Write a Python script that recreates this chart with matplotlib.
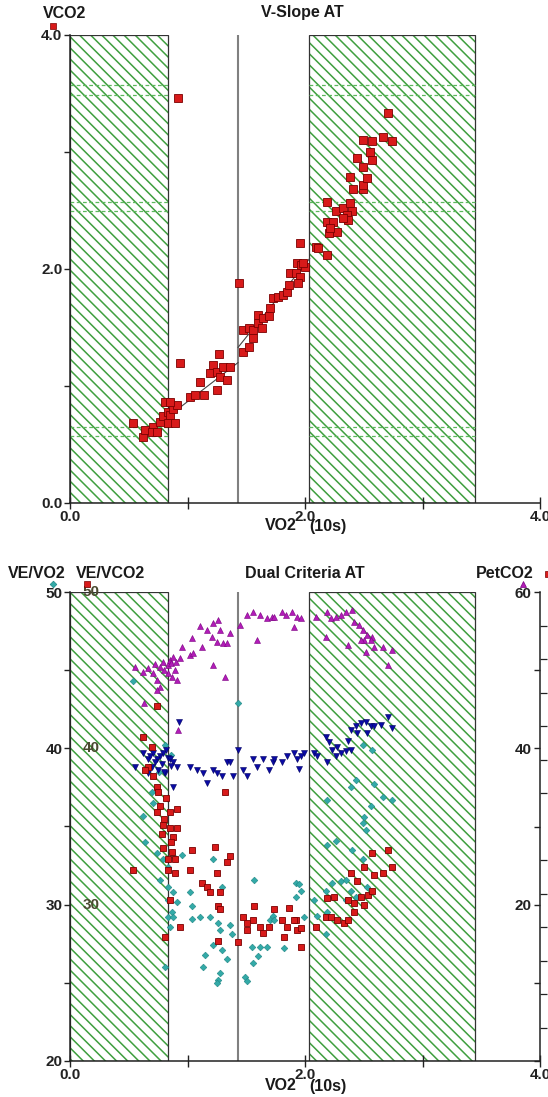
import matplotlib
matplotlib.use("Agg")
import matplotlib.pyplot as plt
from matplotlib.ticker import FixedLocator, FormatStrFormatter

# Размер картинки в пикселях
W = 548
H = 1097
DPI = 100

plt.rcParams['font.family'] = ['Liberation Sans', 'DejaVu Sans']
plt.rcParams['hatch.linewidth'] = 1.1

# ---- V-Slope: VO2 / VCO2 ----
vo2 = [0.54, 0.62, 0.64, 0.71, 0.70, 0.74, 0.77, 0.79, 0.83, 0.85, 0.88, 0.91,
       0.81, 0.85, 0.83, 0.89, 0.94, 1.02, 1.06, 1.11, 1.14, 1.19, 1.22, 1.25,
       1.28, 1.30, 1.34, 1.25, 1.36, 1.27, 1.44, 1.47, 1.52, 1.56, 1.47, 1.52,
       1.56, 1.60, 1.63, 1.60, 1.64, 1.69, 1.70, 1.73, 1.77, 1.81, 1.85, 1.86,
       1.87, 1.92, 1.93, 1.97, 2.00, 1.96, 1.94, 1.96, 2.09, 2.11, 2.19, 2.19,
       2.24, 2.20, 2.27, 2.21, 2.19, 2.26, 2.32, 2.38, 2.40, 2.36, 2.37, 2.32,
       2.41, 2.49, 2.49, 2.38, 2.53, 2.49, 2.44, 2.57, 2.55, 2.49, 2.57, 2.66,
       2.74, 2.71, 0.92, 1.98]
vco2 = [0.68, 0.56, 0.62, 0.65, 0.61, 0.61, 0.69, 0.74, 0.78, 0.75, 0.80, 0.84,
        0.86, 0.86, 0.68, 0.68, 1.20, 0.91, 0.92, 1.03, 0.92, 1.11, 1.18, 1.12,
        1.08, 1.16, 1.05, 0.97, 1.16, 1.27, 1.88, 1.29, 1.33, 1.41, 1.48, 1.50,
        1.48, 1.54, 1.50, 1.61, 1.58, 1.60, 1.67, 1.75, 1.76, 1.78, 1.80, 1.86,
        1.97, 1.97, 2.05, 2.03, 2.02, 1.93, 1.88, 2.22, 2.19, 2.18, 2.12, 2.40,
        2.40, 2.31, 2.32, 2.35, 2.57, 2.50, 2.52, 2.56, 2.50, 2.46, 2.42, 2.44,
        2.68, 2.68, 2.72, 2.79, 2.78, 2.87, 2.95, 2.93, 3.00, 3.10, 3.09, 3.13,
        3.09, 3.33, 3.46, 2.05]

# линии регрессии ниже и выше AT
fit1_x = [0.85, 1.43]
fit1_y = [0.75, 1.20]
fit2_x = [1.43, 2.04]
fit2_y = [1.33, 2.09]

AT = 1.43
zone_left = (0.0, 0.83)
zone_right = (2.03, 3.45)
dash_levels = [0.57, 0.65, 2.50, 2.57, 3.49, 3.57]

# ---- Dual Criteria ----
# VE/VCO2 (красные квадраты)
vco2_x = [0.74, 0.62, 0.70, 0.66, 0.64, 0.71, 0.74, 0.75, 1.32, 0.77, 0.85, 0.91,
          0.74, 0.79, 0.85, 0.91, 0.78, 0.88, 0.79, 0.87, 0.83, 0.89, 0.83, 0.89,
          0.54, 1.04, 1.02, 1.23, 1.36, 1.34, 1.25, 1.12, 1.17, 1.19, 1.28, 1.26,
          1.28, 0.94, 0.81, 0.85, 1.26, 1.43, 1.47, 1.51, 1.57, 1.56, 1.62, 1.64,
          1.69, 1.51, 1.74, 1.80, 1.86, 1.85, 1.92, 1.93, 1.97, 1.97, 2.09, 2.18,
          2.22, 2.27, 2.33, 2.37, 2.42, 2.37, 2.42, 2.19, 2.25, 2.39, 2.44, 2.48,
          2.50, 2.54, 2.57, 2.50, 2.59, 2.66, 2.57, 2.71, 2.74, 1.91, 1.82, 0.80,
          0.86, 0.82]
vco2_y = [42.7, 40.7, 40.1, 38.8, 38.6, 38.2, 37.5, 37.2, 37.2, 36.3, 35.9, 36.1,
          35.9, 35.1, 34.9, 34.9, 34.5, 34.3, 33.6, 33.4, 32.9, 32.9, 32.2, 32.0,
          32.2, 33.5, 32.2, 33.7, 33.1, 32.7, 32.0, 31.4, 31.1, 30.8, 30.8, 29.9,
          29.7, 28.6, 27.9, 30.3, 27.7, 27.6, 29.2, 28.8, 29.9, 29.0, 28.6, 28.2,
          28.6, 28.4, 29.7, 29.0, 29.8, 28.6, 29.0, 28.4, 27.3, 28.5, 28.6, 29.2,
          29.2, 29.0, 28.8, 29.0, 29.5, 30.3, 30.1, 30.4, 30.5, 32.0, 31.5, 30.5,
          30.0, 30.6, 30.9, 32.4, 31.9, 32.0, 33.3, 33.5, 32.4, 29.0, 27.9, 35.5,
          34.0, 36.8]

# VE/VO2 (бирюзовые ромбы)
vo2r_x = [0.54, 1.43, 0.81, 0.70, 0.71, 0.62, 0.64, 0.74, 0.79, 0.83, 0.88, 0.95,
          0.77, 0.83, 0.88, 0.83, 0.91, 0.87, 0.83, 0.88, 0.85, 1.02, 1.04, 1.04,
          1.11, 1.19, 1.26, 1.28, 1.22, 1.29, 1.36, 1.38, 1.22, 1.29, 1.34, 1.15,
          1.13, 1.28, 1.26, 1.25, 0.81, 1.57, 1.49, 1.51, 1.55, 1.62, 1.56, 1.60,
          1.68, 1.70, 1.73, 1.74, 1.82, 1.92, 1.95, 1.97, 1.92, 1.99, 2.08, 2.10,
          2.18, 2.19, 2.18, 2.23, 2.31, 2.35, 2.35, 2.40, 2.43, 2.49, 2.52, 2.49,
          2.19, 2.26, 2.53, 2.39, 2.49, 2.57, 2.43, 2.39, 2.59, 2.66, 2.74, 2.19,
          2.56, 2.50, 0.76, 0.86]
vo2r_y = [44.3, 42.9, 40.2, 37.2, 36.5, 35.7, 34.0, 33.3, 32.9, 32.4, 33.1, 33.2,
          31.6, 31.1, 30.8, 30.3, 30.2, 29.5, 29.2, 29.2, 28.6, 30.8, 29.9, 29.1,
          29.2, 29.2, 28.8, 28.4, 32.9, 31.1, 28.7, 28.1, 27.4, 27.1, 26.5, 26.8,
          26.0, 25.6, 25.2, 25.0, 26.0, 31.6, 25.4, 25.1, 27.3, 27.3, 26.3, 26.7,
          27.3, 29.0, 29.3, 29.0, 27.2, 31.4, 31.3, 30.9, 30.5, 29.2, 30.3, 29.3,
          28.1, 29.5, 30.9, 31.4, 31.5, 31.6, 30.3, 33.5, 30.5, 32.9, 34.8, 35.2,
          33.8, 34.1, 31.1, 30.9, 40.2, 39.9, 38.0, 37.5, 37.7, 36.9, 36.7, 36.7,
          36.3, 35.6, 38.5, 39.6]

# синие треугольники (левая шкала)
blue_x = [0.55, 0.62, 0.66, 0.68, 0.71, 0.74, 0.77, 0.79, 0.83, 0.85, 0.88, 0.91,
          0.70, 0.75, 0.81, 0.88, 0.66, 0.93, 1.02, 1.08, 1.13, 1.17, 1.22, 1.25,
          1.29, 1.34, 1.36, 1.39, 1.43, 1.47, 1.51, 1.56, 1.59, 1.64, 1.69, 1.73,
          1.74, 1.80, 1.85, 1.91, 1.93, 1.97, 1.99, 1.95, 2.08, 2.10, 2.18, 2.20,
          2.23, 2.27, 2.31, 2.35, 2.39, 2.37, 2.39, 2.43, 2.48, 2.52, 2.56, 2.53,
          2.59, 2.65, 2.71, 2.74, 2.44, 2.19, 2.26, 0.78, 0.82, 0.86, 0.72, 0.80]
blue_y = [38.8, 39.7, 39.3, 39.5, 39.7, 39.3, 39.5, 39.7, 39.4, 39.3, 39.1, 38.8,
          38.8, 38.6, 38.4, 37.5, 38.4, 41.7, 38.8, 38.6, 38.4, 37.8, 38.6, 38.4,
          38.2, 39.1, 39.1, 38.2, 39.9, 38.6, 38.2, 39.3, 38.8, 39.3, 38.6, 39.1,
          39.3, 39.1, 39.5, 39.7, 39.3, 39.5, 39.7, 38.7, 39.7, 39.5, 40.7, 40.4,
          39.9, 40.1, 39.7, 39.8, 39.9, 40.5, 41.2, 41.4, 41.6, 41.7, 41.4, 41.0,
          41.4, 41.5, 42.0, 41.3, 41.0, 39.1, 39.5, 39.0, 39.9, 38.9, 39.1, 38.5]

# PetCO2 (фиолетовые треугольники, правая шкала 0-60)
pet_x = [0.55, 0.62, 0.66, 0.71, 0.74, 0.77, 0.79, 0.83, 0.85, 0.88, 0.83, 0.87,
         0.91, 0.77, 0.74, 0.95, 0.94, 0.89, 1.04, 1.02, 1.05, 1.11, 1.12, 1.17,
         1.21, 1.22, 1.25, 1.26, 1.28, 1.30, 1.34, 1.36, 1.22, 1.32, 0.63, 0.92,
         1.45, 1.51, 1.56, 1.62, 1.68, 1.72, 1.59, 1.74, 1.80, 1.84, 1.89, 1.93,
         1.97, 1.91, 2.09, 2.19, 2.22, 2.26, 2.31, 2.35, 2.40, 2.42, 2.18, 2.37,
         2.46, 2.49, 2.53, 2.50, 2.57, 2.59, 2.52, 2.66, 2.74, 2.71, 2.48, 2.56,
         0.80, 0.86, 0.90, 0.72]
pet_y = [50.4, 49.8, 50.3, 49.6, 48.8, 50.4, 51.1, 50.7, 51.3, 51.7, 49.6, 49.1,
         48.8, 47.9, 47.5, 53.0, 51.6, 50.0, 54.1, 52.0, 52.2, 55.7, 53.0, 55.1,
         54.3, 56.0, 53.6, 56.4, 55.1, 53.5, 53.5, 54.8, 50.7, 49.1, 45.8, 42.4,
         55.8, 57.1, 57.5, 57.1, 56.7, 56.8, 53.9, 56.8, 57.5, 57.1, 57.5, 56.8,
         56.7, 55.5, 56.8, 57.5, 56.7, 56.8, 57.1, 57.5, 57.7, 56.2, 54.3, 53.2,
         55.8, 55.1, 54.5, 53.9, 54.3, 53.0, 52.3, 53.0, 52.6, 50.7, 53.9, 53.9,
         50.0, 50.9, 51.0, 50.8]

x_ticks = [0, 2, 4]
x_minor = [1, 3]

RED = '#d81a1a'
RED_E = '#7a0000'
TEAL = '#33aaa8'
TEAL_E = '#1d8583'
PURP = '#b21cb8'
PURP_E = '#7a0080'
BLUE = '#0a0aa5'
BLUE_E = '#000060'
HATCH = '#3f9f3f'
TXT = '#1a1a1a'

FS_TXT = 11.5
FS_TICK = 11


def fx(px):
    return px / W


def fy(py):
    return 1 - py / H


def zones(ax, dashed):
    for a, b in [zone_left, zone_right]:
        ax.axvspan(a, b, facecolor='white', edgecolor=HATCH, hatch='\\\\\\', lw=0, zorder=1)
        ax.axvspan(a, b, fill=False, edgecolor='#333333', lw=0.9, zorder=2)
        if dashed:
            for lev in dash_levels:
                ax.plot([a, b], [lev, lev], color='#5cb85c', lw=0.9, ls=(0, (3, 2)), zorder=2)
    ax.axvline(AT, color='#808080', lw=1.5, zorder=3)


def base_axes(ax):
    for s in ['top', 'right']:
        ax.spines[s].set_visible(False)
    for s in ['left', 'bottom']:
        ax.spines[s].set_linewidth(1.1)
        ax.spines[s].set_color('#222222')
        ax.spines[s].set_zorder(5)
    ax.set_xlim(0, 4)
    ax.xaxis.set_major_locator(FixedLocator(x_ticks))
    ax.xaxis.set_minor_locator(FixedLocator(x_minor))
    ax.xaxis.set_major_formatter(FormatStrFormatter('%.1f'))
    ax.tick_params(axis='x', which='both', direction='inout', length=8, width=1.0,
                   labelsize=FS_TICK, pad=1, colors='#222222')
    ax.tick_params(axis='y', which='both', direction='out', length=4.5, width=1.0,
                   labelsize=FS_TICK, pad=1, colors='#222222')
    for lab in ax.get_xticklabels() + ax.get_yticklabels():
        lab.set_fontweight('bold')


def marker(px, py, m, ms, fc, ec):
    fig.lines.append(plt.Line2D([fx(px)], [fy(py)], transform=fig.transFigure, ls='none',
                                marker=m, ms=ms, mfc=fc, mec=ec, mew=0.5))


def xlabel(py):
    fig.text(fx(281), fy(py), 'VO2', ha='center', va='center', fontsize=FS_TXT,
             fontweight='bold', color=TXT)
    fig.text(fx(328), fy(py + 1), '(10s)', ha='center', va='center', fontsize=FS_TXT,
             fontweight='bold', color=TXT)


fig = plt.figure(figsize=(W / DPI, H / DPI), dpi=DPI)

# ---------- верхний график ----------
ax1 = fig.add_axes([fx(70), fy(503), fx(540) - fx(70), fy(35) - fy(503)])
base_axes(ax1)
ax1.set_ylim(0, 4)
ax1.yaxis.set_major_locator(FixedLocator([0, 2, 4]))
ax1.yaxis.set_minor_locator(FixedLocator([1, 3]))
ax1.yaxis.set_major_formatter(FormatStrFormatter('%.1f'))
for lab in ax1.get_yticklabels():
    lab.set_fontweight('bold')
zones(ax1, True)
ax1.plot(fit1_x, fit1_y, color='#444444', lw=0.8, zorder=4)
ax1.plot(fit2_x, fit2_y, color='#444444', lw=0.8, zorder=4)
ax1.plot(vo2, vco2, ls='none', marker='s', ms=5.2, mfc=RED, mec=RED_E, mew=0.6,
         zorder=6, clip_on=False)

fig.text(fx(65), fy(13), 'VCO2', ha='center', va='center', fontsize=FS_TXT,
         fontweight='bold', color=TXT)
fig.text(fx(302), fy(13), 'V-Slope AT', ha='center', va='center', fontsize=FS_TXT,
         fontweight='bold', color=TXT)
xlabel(526)
marker(53, 26, 's', 5, RED, RED_E)

# ---------- нижний график ----------
ax2 = fig.add_axes([fx(70), fy(1061), fx(540) - fx(70), fy(592) - fy(1061)])
base_axes(ax2)
ax2.set_ylim(20, 50)
ax2.yaxis.set_major_locator(FixedLocator([20, 30, 40, 50]))
ax2.yaxis.set_minor_locator(FixedLocator([25, 35, 45]))
for lab in ax2.get_yticklabels():
    lab.set_fontweight('bold')
zones(ax2, False)
ax2.plot(vo2r_x, vo2r_y, ls='none', marker='D', ms=3.4, mfc=TEAL, mec=TEAL_E, mew=0.4,
         zorder=6)
ax2.plot(blue_x, blue_y, ls='none', marker='v', ms=4.8, mfc=BLUE, mec=BLUE_E, mew=0.4,
         zorder=6)
ax2.plot(vco2_x, vco2_y, ls='none', marker='s', ms=4.7, mfc=RED, mec=RED_E, mew=0.6,
         zorder=7)
for v in [30, 40, 50]:
    ax2.text(0.11, v, str(v), ha='left', va='center', fontsize=FS_TICK, fontweight='bold',
             color='#4a4a30', zorder=8)

ax3 = ax2.twinx()
ax3.set_position(ax2.get_position())
ax3.set_ylim(0, 60)
for s in ['top', 'left', 'bottom']:
    ax3.spines[s].set_visible(False)
ax3.spines['right'].set_linewidth(1.1)
ax3.spines['right'].set_color('#222222')
ax3.set_yticks([0, 10, 20, 30, 40, 50, 60])
ax3.set_yticklabels(['', '', '20', '', '40', '', '60'])
ax3.yaxis.set_minor_locator(FixedLocator([60 * i / 14 for i in range(15)]))
ax3.tick_params(axis='y', which='major', direction='in', length=4.5, width=1.0,
                labelsize=FS_TICK, pad=-6, colors='#222222')
ax3.tick_params(axis='y', which='minor', direction='out', length=5, width=0.9,
                colors='#222222')
for lab in ax3.get_yticklabels():
    lab.set_fontweight('bold')
    lab.set_horizontalalignment('right')
ax3.plot(pet_x, pet_y, ls='none', marker='^', ms=4.8, mfc=PURP, mec=PURP_E, mew=0.4,
         zorder=6)

fig.text(fx(37), fy(573), 'VE/VO2', ha='center', va='center', fontsize=FS_TXT,
         fontweight='bold', color=TXT)
fig.text(fx(111), fy(573), 'VE/VCO2', ha='center', va='center', fontsize=FS_TXT,
         fontweight='bold', color=TXT)
fig.text(fx(305), fy(573), 'Dual Criteria AT', ha='center', va='center', fontsize=FS_TXT,
         fontweight='bold', color=TXT)
fig.text(fx(505), fy(573), 'PetCO2', ha='center', va='center', fontsize=FS_TXT,
         fontweight='bold', color=TXT)
xlabel(1085)
marker(53, 584, 'D', 3.4, TEAL, TEAL_E)
marker(87, 584, 's', 4.8, RED, RED_E)
marker(523, 584, '^', 4.8, PURP, PURP_E)
marker(548, 574, 's', 4.8, RED, RED_E)

fig.savefig('out.png', dpi=DPI)
